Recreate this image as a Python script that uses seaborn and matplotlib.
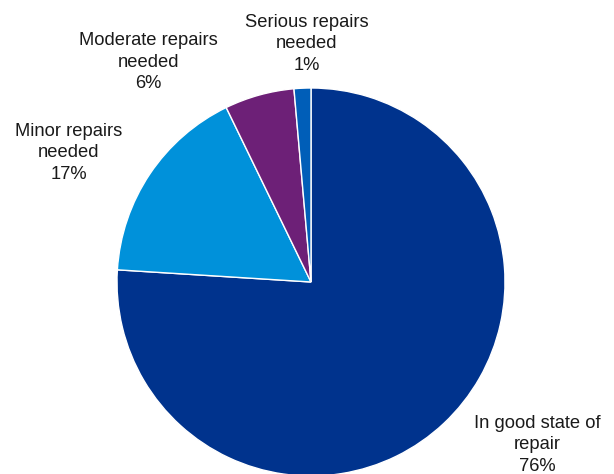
import matplotlib
matplotlib.use('Agg')
import matplotlib.pyplot as plt
import seaborn as sns

categories = ['In good state of\nrepair', 'Minor repairs\nneeded',
              'Moderate repairs\nneeded', 'Serious repairs\nneeded']
shares = [76.0, 16.8, 5.8, 1.4]
pct_labels = ['76%', '17%', '6%', '1%']

sns.set_theme(style='white')
plt.rcParams['font.family'] = ['Liberation Sans', 'DejaVu Sans']

colors = sns.color_palette(['#00338D', '#0091DA', '#6D2077', '#005EB8'])

fig = plt.figure(figsize=(6.14, 4.74), dpi=100)
ax = fig.add_axes([0, 0, 1, 1])

ax.pie(shares, colors=colors, startangle=90, counterclock=False,
       wedgeprops=dict(edgecolor='white', linewidth=1))

# label positions (pie radius = 1)
label_pos = [(1.168, -0.840), (-1.250, 0.665), (-0.838, 1.134), (-0.023, 1.227)]
for cat, pct, (x, y) in zip(categories, pct_labels, label_pos):
    ax.text(x, y, f'{cat}\n{pct}', ha='center', va='center',
            fontsize=13.2, color='#1a1a1a', linespacing=1.38)

ax.set_aspect('equal')
ax.set_xlim(-311 / 194, (614 - 311) / 194)
ax.set_ylim(-192 / 194, 282 / 194)
ax.axis('off')

fig.savefig('out.png', dpi=100)
